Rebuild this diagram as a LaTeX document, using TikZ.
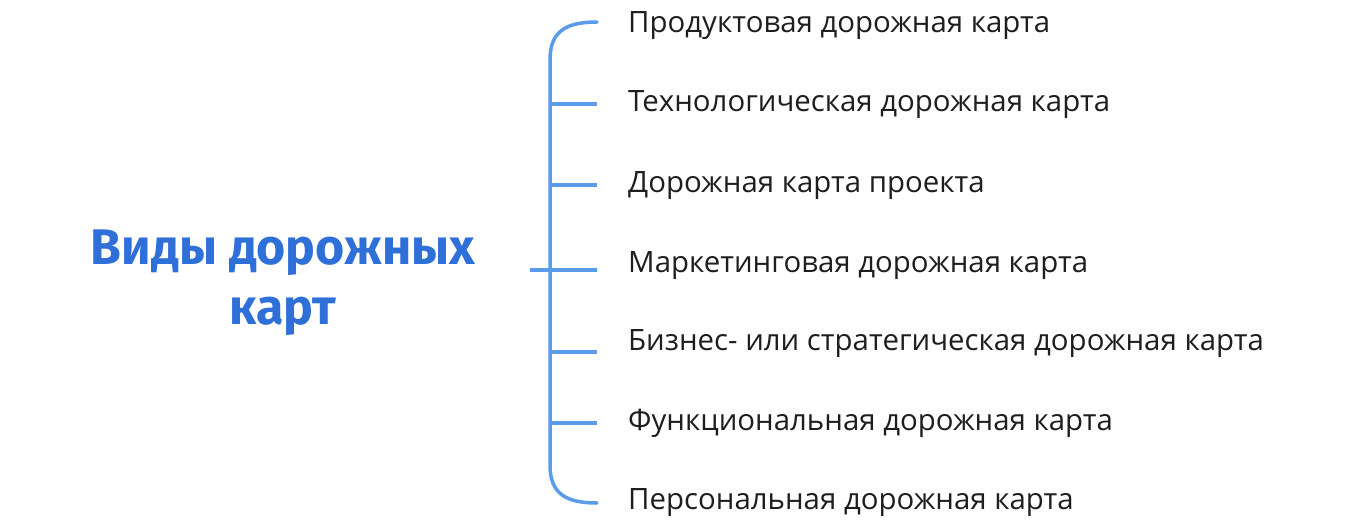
\documentclass[tikz,border=0pt]{standalone}
\usepackage{fontspec}
\setmainfont{Open Sans}
\newfontfamily\titlefont{Fira Sans}
\definecolor{bracketblue}{HTML}{5A9BEA}
\definecolor{titleblue}{HTML}{2E6FD8}
\definecolor{labelgray}{HTML}{1E1E1E}
\tikzset{
  item/.style={anchor=west, text=labelgray, font=\fontsize{29.4}{34}\selectfont, inner sep=0pt},
  tick/.style={draw=bracketblue, line width=3.5pt}
}
\begin{document}
\begin{tikzpicture}[x=1pt,y=-1pt]
    \useasboundingbox (0,0) rectangle (1352,527);
    % title
    \node[text=titleblue, font=\titlefont\bfseries\fontsize{50}{60}\selectfont, align=center] (title) at (283,283) {Виды дорожных\\карт};

    % bracket
    \draw[tick, line cap=round] (597,22) .. controls (565,22) and (550,32) .. (550,60) -- (550,465) .. controls (550,493) and (565,503) .. (597,503);
    \draw[tick] (530,270) -- (597,270);

    % items
    \foreach \y/\txt/\nm in {26/Продуктовая дорожная карта/i1,
                          105/Технологическая дорожная карта/i2,
                          186/Дорожная карта проекта/i3,
                          266/Маркетинговая дорожная карта/i4,
                          344/Бизнес- или стратегическая дорожная карта/i5,
                          423/Функциональная дорожная карта/i6,
                          503/Персональная дорожная карта/i7}
        \node[item] (\nm) at (628,\y) {\txt};
    \foreach \y in {104,185,352,423}
        \draw[tick] (550,\y) -- (597,\y);
\end{tikzpicture}
\end{document}
